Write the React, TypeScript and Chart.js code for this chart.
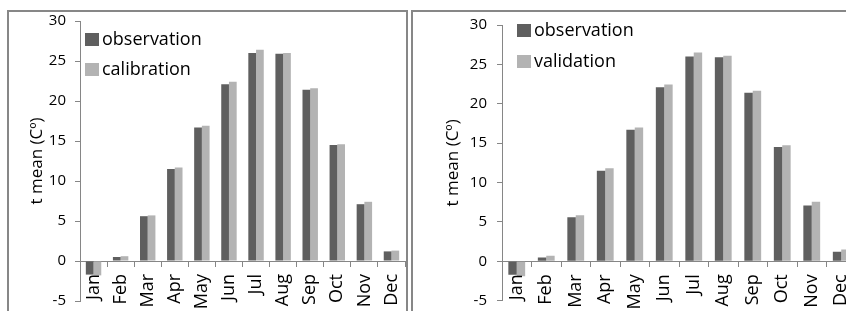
import React, { useEffect, useRef } from "react";
import { Chart, registerables } from "chart.js";

Chart.register(...registerables);

const months = ["Jan", "Feb", "Mar", "Apr", "May", "Jun", "Jul", "Aug", "Sep", "Oct", "Nov", "Dec"];
const observation = [-1.7, 0.5, 5.6, 11.5, 16.7, 22.1, 26.0, 25.9, 21.4, 14.5, 7.1, 1.2];
const calibration = [-1.8, 0.6, 5.7, 11.7, 16.9, 22.4, 26.4, 26.0, 21.6, 14.6, 7.4, 1.3];
const validation = [-1.9, 0.7, 5.85, 11.8, 17.0, 22.45, 26.5, 26.1, 21.65, 14.75, 7.55, 1.5];
const yMin = -5;
const yMax = 30;
const yStep = 5;
const yTitle = "t mean (Cº)";
const obsLabel = "observation";
const calLabel = "calibration";
const valLabel = "validation";

const DARK = "#5f5f5f";
const LIGHT = "#b3b3b3";
const AXIS = "#868686";
const BORDER = "#878787";
const TEXT = "#000000";
const FONT = "'Open Sans', sans-serif";
const MONTH_FONT_SIZE = 18;
const TICK_LEN = 5;
const MONTH_PAD = 8;

// Draws the category labels of the x scale vertically, hanging below the zero line.
const verticalCategoryLabels = {
  id: "verticalCategoryLabels",
  afterDraw(chart: any) {
    const xs = chart.scales.x;
    const ys = chart.scales.y;
    const ctx = chart.ctx;
    const y0 = ys.getPixelForValue(0) + TICK_LEN + MONTH_PAD;
    ctx.save();
    ctx.font = `${MONTH_FONT_SIZE}px ${FONT}`;
    ctx.fillStyle = TEXT;
    ctx.textAlign = "right";
    ctx.textBaseline = "middle";
    xs.ticks.forEach((t: any, i: number) => {
      const x = xs.getPixelForTick(i);
      const label = xs.getLabelForValue(t.value);
      ctx.save();
      ctx.translate(x, y0);
      ctx.rotate(-Math.PI / 2);
      ctx.fillText(label, 0, 0);
      ctx.restore();
    });
    ctx.restore();
  },
};

type ChartProps = {
  second: number[];
  secondLabel: string;
  width: number;
  height: number;
  pad: { top: number; right: number; bottom: number };
  yWidth: number;
  yTickPad: number;
  titlePad: number;
};

function BarChart(props: ChartProps) {
  const ref = useRef<HTMLCanvasElement | null>(null);
  useEffect(() => {
    if (!ref.current) return;
    const chart = new Chart(ref.current, {
      type: "bar",
      data: {
        labels: months,
        datasets: [
          {
            label: obsLabel,
            data: observation,
            backgroundColor: DARK,
            borderWidth: 0,
            categoryPercentage: 0.57,
            barPercentage: 1,
          },
          {
            label: props.secondLabel,
            data: props.second,
            backgroundColor: LIGHT,
            borderWidth: 0,
            categoryPercentage: 0.57,
            barPercentage: 1,
          },
        ],
      },
      plugins: [verticalCategoryLabels],
      options: {
        animation: false,
        responsive: false,
        maintainAspectRatio: false,
        layout: { padding: { left: 0, top: props.pad.top, right: props.pad.right, bottom: props.pad.bottom } },
        plugins: { legend: { display: false }, tooltip: { enabled: false } },
        scales: {
          x: {
            position: { y: 0 } as any,
            offset: true,
            grid: {
              display: true,
              drawOnChartArea: false,
              drawTicks: true,
              tickLength: TICK_LEN,
              color: AXIS,
              offset: true,
            },
            border: { display: true, color: AXIS, width: 1 },
            ticks: {
              autoSkip: false,
              display: false,
            },
            afterFit: (s: any) => {
              s.height = 0;
              s.paddingLeft = 0;
              s.paddingRight = 0;
            },
          },
          y: {
            min: yMin,
            max: yMax,
            ticks: { stepSize: yStep, padding: props.yTickPad, color: TEXT, font: { family: FONT, size: 15 } },
            grid: { drawOnChartArea: false, drawTicks: true, tickLength: TICK_LEN, color: AXIS },
            border: { display: true, color: AXIS, width: 1 },
            title: {
              display: true,
              text: yTitle,
              color: TEXT,
              font: { family: FONT, size: 17 },
              padding: { top: props.titlePad, bottom: 0 },
            },
            afterFit: (s: any) => {
              s.width = props.yWidth;
              s.paddingTop = 0;
              s.paddingBottom = 0;
            },
          },
        },
      },
    });
    return () => chart.destroy();
  }, []);
  return <canvas ref={ref} width={props.width} height={props.height} style={{ width: props.width, height: props.height, display: "block" }} />;
}

function Legend({ items, left, tops, boxTop }: { items: { label: string; color: string }[]; left: number; tops: number[]; boxTop: number }) {
  return (
    <>
      {items.map((it, i) => (
        <div
          key={i}
          style={{
            position: "absolute",
            left,
            top: tops[i],
            height: 30,
            lineHeight: "30px",
            fontFamily: FONT,
            fontSize: 18,
            color: TEXT,
            whiteSpace: "nowrap",
          }}
        >
          <div style={{ position: "absolute", left: 0, top: boxTop, width: 14, height: 13, background: it.color }} />
          <span style={{ position: "absolute", left: 17, top: 0 }}>{it.label}</span>
        </div>
      ))}
    </>
  );
}

export default function App() {
  return (
    <div style={{ position: "fixed", left: 0, top: 0, width: 846, height: 311, overflow: "hidden", background: "#fff" }}>
      <div
        style={{
          position: "absolute",
          left: 7,
          top: 10,
          width: 397,
          height: 400,
          border: `2px solid ${BORDER}`,
        }}
      />
      <div
        style={{
          position: "absolute",
          left: 411,
          top: 10,
          width: 500,
          height: 400,
          border: `2px solid ${BORDER}`,
        }}
      />
      <div style={{ position: "absolute", left: 9, top: 12 }}>
        <BarChart
          second={calibration}
          secondLabel={calLabel}
          width={397}
          height={299}
          pad={{ top: 9, right: 1, bottom: 10 }}
          yWidth={71}
          yTickPad={9}
          titlePad={17.7}
        />
      </div>
      <div style={{ position: "absolute", left: 413, top: 12 }}>
        <BarChart
          second={validation}
          secondLabel={valLabel}
          width={445}
          height={299}
          pad={{ top: 13, right: 2, bottom: 10.3 }}
          yWidth={89}
          yTickPad={10}
          titlePad={30}
        />
      </div>
      <Legend
        items={[
          { label: obsLabel, color: DARK },
          { label: calLabel, color: LIGHT },
        ]}
        left={85}
        tops={[23, 53.3]}
        boxTop={10.2}
      />
      <Legend
        items={[
          { label: obsLabel, color: DARK },
          { label: valLabel, color: LIGHT },
        ]}
        left={517}
        tops={[13.5, 44.5]}
        boxTop={10.1}
      />
    </div>
  );
}
